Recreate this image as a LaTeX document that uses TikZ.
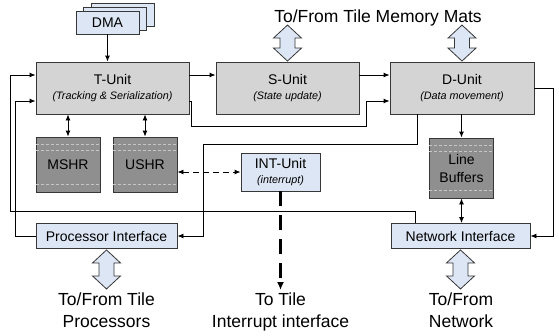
\documentclass[tikz,border=0pt]{standalone}
\usepackage{fontspec}
\setmainfont{Liberation Sans}
\usetikzlibrary{arrows.meta,shadows}
\definecolor{unitgray}{RGB}{212,212,212}
\definecolor{bufgray}{RGB}{143,143,143}
\definecolor{paleblue}{RGB}{221,230,244}
\definecolor{edge}{RGB}{55,55,55}
\newcommand{\unitnote}[1]{\\[-0.5pt]{\fontsize{10.8}{12}\selectfont\itshape #1}}

\begin{document}
\begin{tikzpicture}[x=1pt, y=-1pt, font=\fontsize{14}{15}\selectfont,
    >={Latex[length=6pt,width=5pt]},
    unit/.style={draw=edge, line width=0.9pt, fill=unitgray, minimum width=#1,
      minimum height=52pt, inner sep=0pt, align=center},
    store/.style={draw=edge, line width=0.9pt, fill=bufgray, minimum width=64pt,
      minimum height=#1, inner sep=0pt, align=center, font=\fontsize{14}{18}\selectfont},
    iface/.style={draw=edge, line width=0.9pt, fill=paleblue, minimum width=#1,
      minimum height=25pt, inner sep=0pt, align=center},
    link/.style={line width=0.9pt, ->},
    innerdash/.style={gray!45, line width=0.6pt, dash pattern=on 3pt off 2pt},
    big/.style={font=\fontsize{17.5}{22}\selectfont, align=center, inner sep=0pt},
    port/.pic={\draw[edge, line width=0.8pt, fill=paleblue]
      (0,{-#1/2}) -- (14,{-#1/2+13}) -- (7.5,{-#1/2+13}) -- (7.5,{#1/2-13})
      -- (14,{#1/2-13}) -- (0,{#1/2}) -- (-14,{#1/2-13}) -- (-7.5,{#1/2-13})
      -- (-7.5,{-#1/2+13}) -- (-14,{-#1/2+13}) -- cycle;}
  ]
  \useasboundingbox (0,0) rectangle (559,335);

  % main pipeline
  \node[unit=153pt] (tunit) at (112.5,88) {T-Unit\unitnote{(Tracking \& Serialization)}};
  \node[unit=143pt] (sunit) at (287.5,88) {S-Unit\unitnote{(State update)}};
  \node[unit=144pt] (dunit) at (462,88) {D-Unit\unitnote{(Data movement)}};
  \node[iface=63pt, minimum height=23pt,
    double copy shadow={shadow xshift=7.5pt, shadow yshift=4pt}] (dma) at (107.5,22.5) {DMA};

  % storage and side units
  \node[store=55pt] (mshr) at (68,164.5) {MSHR};
  \node[store=55pt] (ushr) at (145,164.5) {USHR};
  \node[store=60pt] (linebuf) at (461.5,168) {Line\\Buffers};
  \node[iface=79pt, minimum height=38pt] (intunit) at (280.5,172) {INT-Unit\unitnote{(interrupt)}};
  \foreach \b in {mshr,ushr,linebuf} {
    \draw[innerdash] ([yshift=-7.5pt]\b.north west) -- ([yshift=-7.5pt]\b.north east);
    \draw[innerdash] ([yshift=-13.5pt]\b.north west) -- ([yshift=-13.5pt]\b.north east);
    \draw[innerdash] ([yshift=8pt]\b.south west) -- ([yshift=8pt]\b.south east);
  }

  % interfaces
  \node[iface=141pt] (procif) at (106.5,236) {Processor Interface};
  \node[iface=139pt] (netif) at (460.5,236) {Network Interface};

  % outside world
  \node[big, anchor=base] (mats) at (378,22) {To/From Tile Memory Mats};
  \node[big, anchor=north] (procports) at (106.5,293) {To/From Tile\\Processors};
  \node[big, anchor=north] (irq) at (280.5,293) {To Tile\\Interrupt interface};
  \node[big, anchor=north] (netports) at (461,293) {To/From\\Network};
  \pic at ([yshift=18.5pt]sunit.north) {port=36};
  \pic at ([yshift=18.5pt]dunit.north) {port=36};
  \pic at ([yshift=-20.5pt]procif.south) {port=39};
  \pic at ([yshift=-20.5pt]netif.south) {port=39};

  % connections
  \draw[link] (dma.south) -- (dma.south |- tunit.north);
  \draw[link] ([yshift=13pt]tunit.east) -- ([yshift=13pt]sunit.west);
  \draw[link] ([yshift=13pt]sunit.east) -- ([yshift=13pt]dunit.west);
  \draw[link] ([yshift=-13pt]tunit.east) -- ++(2,0) |- (366,126) |- ([yshift=-13pt]dunit.west);
  \draw[link] ([xshift=-45pt]dunit.south) |- (203,144) |- (procif.east);
  \draw[link] (dunit.east) -- ++(19,0) |- (netif.east);
  \draw[link] ([xshift=-45pt]netif.north) |- (10,211) |- ([yshift=13pt]tunit.west);
  \draw[link] (procif.west) -- ++(-20,0) |- ([yshift=-13pt]tunit.west);
  \draw[link, <->] (mshr.north |- tunit.south) -- (mshr.north);
  \draw[link, <->] (ushr.north |- tunit.south) -- (ushr.north);
  \draw[link] (linebuf.north |- dunit.south) -- (linebuf.north);
  \draw[link, <->] (linebuf.south) -- (linebuf.south |- netif.north);
  \draw[link, <->, dash pattern=on 6pt off 4pt] (ushr.east |- intunit.west) -- (intunit.west);
  \draw[line width=2.6pt, dash pattern=on 15pt off 9pt, -{Latex[length=8pt,width=7pt]}]
    (intunit.south) -- ([yshift=3pt]irq.north);
\end{tikzpicture}
\end{document}
